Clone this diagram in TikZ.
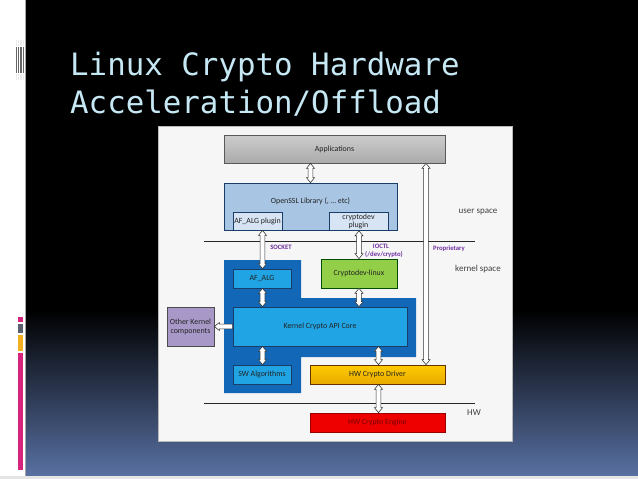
\documentclass[tikz,border=0pt]{standalone}
\usepackage{fontspec}
\setmainfont{Carlito}
\newfontfamily\titlefont{DejaVu Sans Mono}
\usetikzlibrary{calc}
\definecolor{titlecol}{RGB}{198,232,244}
\definecolor{bgblue}{RGB}{88,112,162}
\definecolor{magent}{RGB}{214,36,124}
\definecolor{stripgrey}{RGB}{90,96,112}
\definecolor{stripyel}{RGB}{240,176,32}
\definecolor{panelc}{RGB}{246,246,246}
\definecolor{txt}{RGB}{35,35,35}
\definecolor{darkblue}{RGB}{18,104,182}
\definecolor{midblue}{RGB}{32,164,228}
\definecolor{bordblue}{RGB}{25,60,105}
\definecolor{osslc}{RGB}{168,198,228}
\definecolor{plugc}{RGB}{214,228,243}
\definecolor{greenc}{RGB}{146,206,72}
\definecolor{purplec}{RGB}{168,152,200}
\definecolor{redc}{RGB}{238,0,0}
\definecolor{labpurple}{RGB}{112,48,160}
\newcommand\vdarr[2]{%
  \path[darr] let \p1=(#1), \p2=(#2) in
  (\x1,\y1) -- (\x1+4pt,\y1-5pt) -- (\x1+2.3pt,\y1-5pt) -- (\x1+2.3pt,\y2+5pt)
  -- (\x1+4pt,\y2+5pt) -- (\x1,\y2) -- (\x1-4pt,\y2+5pt) -- (\x1-2.3pt,\y2+5pt)
  -- (\x1-2.3pt,\y1-5pt) -- (\x1-4pt,\y1-5pt) -- cycle;}
\newcommand\lharr[2]{%
  \path[darr] let \p1=(#1), \p2=(#2) in
  (\x1,\y1) -- (\x1+5pt,\y1+4pt) -- (\x1+5pt,\y1+2.3pt) -- (\x2,\y1+2.3pt)
  -- (\x2,\y1-2.3pt) -- (\x1+5pt,\y1-2.3pt) -- (\x1+5pt,\y1-4pt) -- cycle;}
\begin{document}
\begin{tikzpicture}[x=1pt,y=-1pt,
  bx/.style={draw=#1, line width=0.7pt, inner sep=1pt, align=center,
    font=\fontsize{7.9}{8.8}\selectfont, text=txt},
  darr/.style={draw=black!80, fill=white, line width=0.55pt, line join=miter},
  sep/.style={draw=black!85, line width=0.6pt},
  spacelab/.style={font=\fontsize{9}{10}\selectfont, text=black!75},
  iflab/.style={font=\fontsize{6.7}{7.6}\selectfont\bfseries, text=labpurple, inner sep=0pt},
  title/.style={font=\titlefont\fontsize{30.8}{36}\selectfont, text=titlecol, anchor=base west, inner sep=0pt}]
\useasboundingbox (0,0) rectangle (638,479);
% background
\fill[white] (0,0) rectangle (638,479);
\fill[black] (26,0) rectangle (638,310);
\shade[top color=black, bottom color=bgblue] (26,310) rectangle (638,476);
\fill[black!10] (0,476) rectangle (638,479);
\draw[gray!70, line width=1pt] (25.5,0) -- (25.5,476);
% left strip decorations
\foreach \xx in {15.5,17.8,20.2,22.8} {\fill[black!60] (\xx,47) rectangle +(1.3,26);}
\foreach \xx in {15.5,17.8,20.2,22.8} {\fill[black!8] (\xx,40) rectangle +(1.3,6); \fill[black!8] (\xx,74) rectangle +(1.3,6);}
\fill[magent] (18,317) rectangle (23,322);
\fill[stripgrey] (18,323.5) rectangle (23,333);
\fill[stripyel] (18,334.5) rectangle (23,351);
\fill[magent] (18,352.5) rectangle (23,470);
% title
\node[title] (t1) at (70,75) {Linux Crypto Hardware};
\node[title] (t2) at (70,113) {Acceleration/Offload};
% panel
\fill[panelc, draw=gray!55, line width=0.6pt] (158,126) rectangle (512,441);
% dark blue kernel region
\fill[darkblue] (224,260) -- (301,260) -- (301,298) -- (416,298) -- (416,357)
  -- (301,357) -- (301,393) -- (224,393) -- cycle;
% separators
\draw[sep] (204,241) -- (475,241);
\draw[sep] (204,403) -- (475,403);
% boxes
\node[bx=black!65, top color=black!20, bottom color=black!33, minimum width=221pt, minimum height=28pt] (apps) at (334.5,149) {Applications};
\node[bx=bordblue, fill=osslc, minimum width=173pt, minimum height=47pt] (ossl) at (310.5,206.5) {};
\node[bx=black!0, draw=none, fill=none] (ossltxt) at (310.5,201) {OpenSSL Library (, … etc)};
\node[bx=bordblue, fill=plugc, minimum width=49pt, minimum height=18pt, inner sep=0pt] (afplug) at (257.5,221) {AF\_ALG plugin};
\node[bx=bordblue, fill=plugc, minimum width=59pt, minimum height=18pt, inner sep=0pt] (cdplug) at (358.5,221.5) {cryptodev\\[-1.6pt]plugin};
\node[bx=bordblue, fill=midblue, minimum width=58pt, minimum height=19pt] (afalg) at (262,278.5) {AF\_ALG};
\node[bx=black!70!green, fill=greenc, minimum width=76pt, minimum height=29pt] (cdlin) at (359,273.5) {Cryptodev-linux};
\node[bx=bordblue, fill=midblue, minimum width=174pt, minimum height=39pt] (core) at (320,326.5) {Kernel Crypto API Core};
\node[bx=black!70, fill=purplec, minimum width=47pt, minimum height=39pt, inner sep=0pt] (other) at (190.5,326.5) {Other Kernel\\components};
\node[bx=bordblue, fill=midblue, minimum width=58pt, minimum height=19pt] (sw) at (262,374.5) {SW Algorithms};
\node[bx=black!60!orange, top color={rgb,255:red,255;green,204;blue,0}, bottom color={rgb,255:red,232;green,170;blue,0}, minimum width=135pt, minimum height=19pt] (drv) at (377.5,374.5) {HW Crypto Driver};
\node[bx=black!40!red, fill=redc, text={rgb,255:red,120;green,0;blue,0}, minimum width=135pt, minimum height=19pt] (eng) at (377.5,422.5) {HW Crypto Engine};
% labels
\node[spacelab] (us) at (478,212) {user space};
\node[spacelab] (ks) at (478,269) {kernel space};
\node[spacelab] (hw) at (474,413) {HW};
\node[iflab] (sock) at (281,247) {SOCKET};
\node[iflab] (ioctl) at (381,246) {IOCTL};
\node[iflab] (devc) at (384,254.5) {(/dev/crypto)};
\node[iflab] (prop) at (449,249) {Proprietary};
% arrows
\vdarr{310.5,0 |- apps.south}{310.5,0 |- ossl.north}
\vdarr{426,0 |- apps.south}{426,0 |- drv.north}
\vdarr{262.5,0 |- afplug.south}{262.5,0 |- afalg.north}
\vdarr{359,0 |- cdplug.south}{359,0 |- cdlin.north}
\vdarr{262.5,0 |- afalg.south}{262.5,0 |- core.north}
\vdarr{359,0 |- cdlin.south}{359,0 |- core.north}
\vdarr{262.5,0 |- core.south}{262.5,0 |- sw.north}
\vdarr{378.5,0 |- core.south}{378.5,0 |- drv.north}
\vdarr{378.5,0 |- drv.south}{378.5,0 |- eng.north}
\lharr{other.east}{core.west}
\end{tikzpicture}
\end{document}
